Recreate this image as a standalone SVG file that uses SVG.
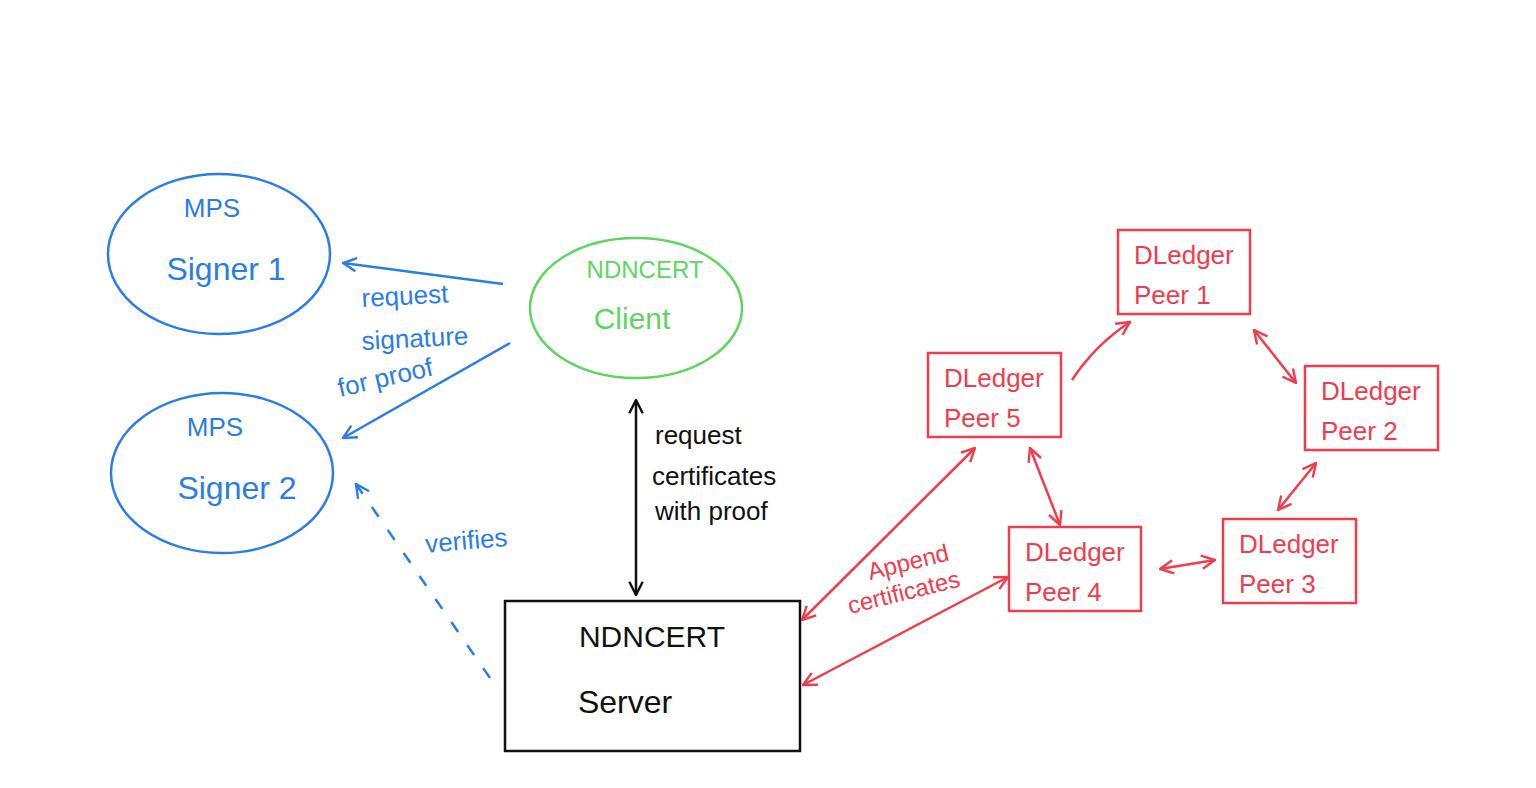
<svg xmlns="http://www.w3.org/2000/svg" width="1536" height="788" viewBox="0 0 1536 788">
<defs>
<style>
.bl{stroke:#2a7de8;fill:none;stroke-width:2.5}
.gr{stroke:#5ed563;fill:none;stroke-width:2.5}
.rd{stroke:#f03c4c;fill:none;stroke-width:2.5}
.bk{stroke:#111;fill:none;stroke-width:2.5}
text{font-family:"Liberation Sans","Noto Sans",sans-serif}
.tb{fill:#2a7de8}
.tg{fill:#5ed563}
.tr{fill:#f03c4c}
.tk{fill:#111}
</style>
<marker id="ab" viewBox="0 0 12 12" refX="11" refY="6" markerWidth="16" markerHeight="16" markerUnits="userSpaceOnUse" orient="auto-start-reverse"><path d="M1,1 L11,6 L1,11" fill="none" stroke="#2a7de8" stroke-width="1.8"/></marker>
<marker id="ak" viewBox="0 0 12 12" refX="11" refY="6" markerWidth="16" markerHeight="16" markerUnits="userSpaceOnUse" orient="auto-start-reverse"><path d="M1,1 L11,6 L1,11" fill="none" stroke="#111" stroke-width="1.8"/></marker>
<marker id="ar" viewBox="0 0 12 12" refX="11" refY="6" markerWidth="16" markerHeight="16" markerUnits="userSpaceOnUse" orient="auto-start-reverse"><path d="M1,1 L11,6 L1,11" fill="none" stroke="#f03c4c" stroke-width="1.8"/></marker>
</defs>
<rect width="1536" height="788" fill="#fff"/>

<g id="signer1">
<ellipse class="bl" cx="219" cy="254" rx="111" ry="80"/>
<text class="tb" x="212" y="217" font-size="26" text-anchor="middle">MPS</text>
<text class="tb" x="226" y="280" font-size="32" text-anchor="middle">Signer 1</text>
</g>
<g id="signer2">
<ellipse class="bl" cx="222" cy="473" rx="111" ry="80"/>
<text class="tb" x="215" y="436" font-size="26" text-anchor="middle">MPS</text>
<text class="tb" x="237" y="499" font-size="32" text-anchor="middle">Signer 2</text>
</g>
<g id="client">
<ellipse class="gr" cx="636" cy="308" rx="106" ry="70"/>
<text class="tg" x="645" y="278" font-size="24" text-anchor="middle">NDNCERT</text>
<text class="tg" x="632" y="329" font-size="30" text-anchor="middle">Client</text>
</g>
<g id="server">
<rect class="bk" x="505" y="601" width="295" height="150"/>
<text class="tk" x="652" y="647" font-size="30" text-anchor="middle">NDNCERT</text>
<text class="tk" x="625" y="713" font-size="32" text-anchor="middle">Server</text>
</g>
<g id="peer1">
<rect class="rd" x="1118" y="230" width="132" height="84"/>
<text class="tr" x="1134" y="264" font-size="26">DLedger</text>
<text class="tr" x="1134" y="304" font-size="26">Peer 1</text>
</g>
<g id="peer2">
<rect class="rd" x="1305" y="366" width="133" height="84"/>
<text class="tr" x="1321" y="400" font-size="26">DLedger</text>
<text class="tr" x="1321" y="440" font-size="26">Peer 2</text>
</g>
<g id="peer3">
<rect class="rd" x="1223" y="519" width="133" height="84"/>
<text class="tr" x="1239" y="553" font-size="26">DLedger</text>
<text class="tr" x="1239" y="593" font-size="26">Peer 3</text>
</g>
<g id="peer4">
<rect class="rd" x="1009" y="527" width="132" height="84"/>
<text class="tr" x="1025" y="561" font-size="26">DLedger</text>
<text class="tr" x="1025" y="601" font-size="26">Peer 4</text>
</g>
<g id="peer5">
<rect class="rd" x="928" y="353" width="133" height="84"/>
<text class="tr" x="944" y="387" font-size="26">DLedger</text>
<text class="tr" x="944" y="427" font-size="26">Peer 5</text>
</g>

<g id="connectors">
<line class="bl" x1="503" y1="284" x2="343" y2="263" marker-end="url(#ab)"/>
<line class="bl" x1="510" y1="343" x2="343" y2="438" marker-end="url(#ab)"/>
<line class="bl" x1="490" y1="678" x2="356" y2="484" stroke-dasharray="12 16" marker-end="url(#ab)"/>
<line class="bk" x1="636" y1="400" x2="636" y2="595" marker-start="url(#ak)" marker-end="url(#ak)"/>
<line class="rd" x1="802" y1="620" x2="975" y2="448" marker-start="url(#ar)" marker-end="url(#ar)"/>
<line class="rd" x1="803" y1="685" x2="1008" y2="577" marker-start="url(#ar)" marker-end="url(#ar)"/>
<path class="rd" d="M1072,380 Q1095,345 1130,322" marker-end="url(#ar)"/>
<line class="rd" x1="1254" y1="330" x2="1296" y2="383" marker-start="url(#ar)" marker-end="url(#ar)"/>
<line class="rd" x1="1030" y1="448" x2="1060" y2="525" marker-start="url(#ar)" marker-end="url(#ar)"/>
<line class="rd" x1="1160" y1="569" x2="1215" y2="560" marker-start="url(#ar)" marker-end="url(#ar)"/>
<line class="rd" x1="1278" y1="510" x2="1316" y2="463" marker-start="url(#ar)" marker-end="url(#ar)"/>
<text class="tb" font-size="26" transform="translate(362,307) rotate(-3)">request</text>
<text class="tb" font-size="26" transform="translate(362,350) rotate(-3)">signature</text>
<text class="tb" font-size="26" transform="translate(340,397) rotate(-13)">for proof</text>
<text class="tb" font-size="26" transform="translate(426,553) rotate(-5)">verifies</text>
<text class="tk" font-size="26" x="655" y="444">request</text>
<text class="tk" font-size="26" x="652" y="485">certificates</text>
<text class="tk" font-size="26" x="655" y="520">with  proof</text>
<text class="tr" font-size="24" transform="translate(870,580) rotate(-14)">Append</text>
<text class="tr" font-size="24" transform="translate(850,614) rotate(-14)">certificates</text>
</g>
</svg>
